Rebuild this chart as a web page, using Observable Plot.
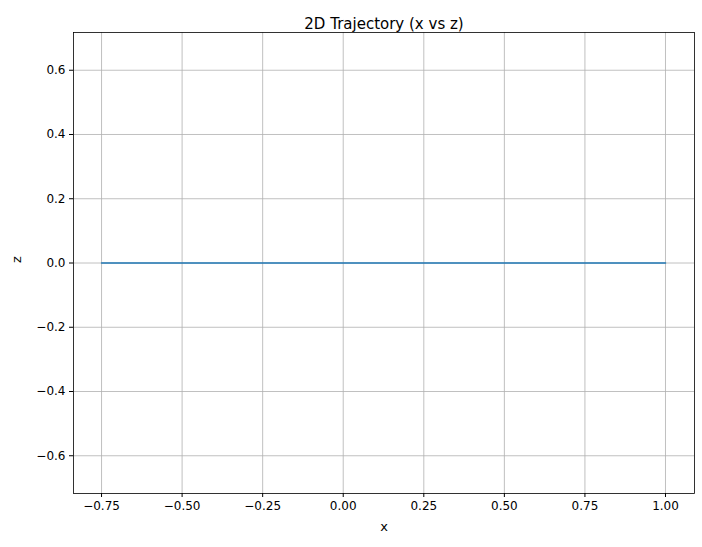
<!DOCTYPE html>
<html>
<head>
<meta charset="utf-8">
<script src="https://cdn.jsdelivr.net/npm/d3@7"></script>
<script src="https://cdn.jsdelivr.net/npm/@observablehq/plot@0.6"></script>
<style>
  body { margin: 0; background: #fff; }
</style>
</head>
<body>
<div id="chart"></div>
<script>
// trajectory samples (x, z)
const xs = [-0.75, -0.5, -0.25, 0, 0.25, 0.5, 0.75, 1.0];
const zs = [0, 0, 0, 0, 0, 0, 0, 0];
const xTicks = [-0.75, -0.5, -0.25, 0, 0.25, 0.5, 0.75, 1.0];
const zTicks = [-0.6, -0.4, -0.2, 0, 0.2, 0.4, 0.6];

const pts = xs.map((x, i) => ({x, z: zs[i]}));
const fmt = n => d => d.toFixed(n).replace("-", "\u2212");

const chart = Plot.plot({
  width: 702,
  height: 547,
  marginLeft: 73,
  marginRight: 8,
  marginTop: 32,
  marginBottom: 54,
  style: {fontFamily: "DejaVu Sans", fontSize: "12px", color: "#000", background: "#fff"},
  x: {domain: [-0.837, 1.09], label: null},
  y: {domain: [-0.7175, 0.7175], label: null},
  marks: [
    Plot.gridX(xTicks, {stroke: "#b0b0b0", strokeOpacity: 1, strokeWidth: 0.8}),
    Plot.gridY(zTicks, {stroke: "#b0b0b0", strokeOpacity: 1, strokeWidth: 0.8}),
    Plot.line(pts, {x: "x", y: "z", stroke: "#1f77b4", strokeWidth: 1.5}),
    Plot.frame({stroke: "#000", strokeWidth: 0.8}),
    Plot.axisX(xTicks, {tickFormat: fmt(2), tickSize: 4, fontSize: 12, tickPadding: 4}),
    Plot.axisY(zTicks, {tickFormat: fmt(1), tickSize: 4, fontSize: 12, tickPadding: 4}),
    Plot.text(["2D Trajectory (x vs z)"], {frameAnchor: "top", dy: -14, fontSize: 15}),
    Plot.text(["x"], {frameAnchor: "bottom", dy: 37, fontSize: 13}),
    Plot.text(["z"], {frameAnchor: "left", dx: -57, fontSize: 13, rotate: -90})
  ]
});
document.getElementById("chart").append(chart);
</script>
</body>
</html>
